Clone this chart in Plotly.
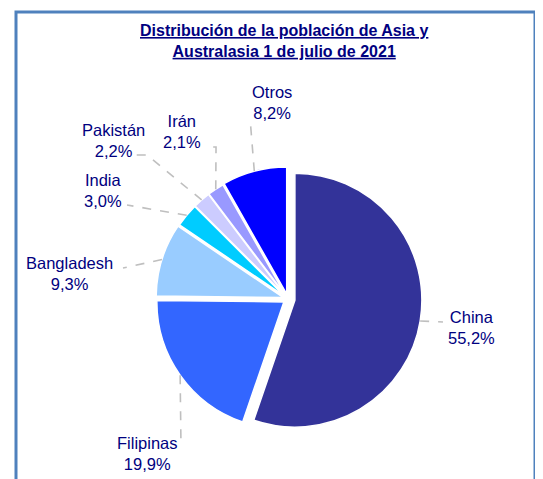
import math
import plotly.graph_objects as go

W, H = 543, 479
OFF = 8  # the page body adds an 8px margin around the plot div

paises = ["China", "Filipinas", "Bangladesh", "India", "Pakistán", "Irán", "Otros"]
porcentajes = [55.2, 19.9, 9.3, 3.0, 2.2, 2.1, 8.2]
colores = ["#333399", "#3366FF", "#99CCFF", "#00CCFF", "#CCCCFF", "#9999FF", "#0000FF"]
separacion = [0.055, 0.04, 0.04, 0.035, 0.035, 0.035, 0.04]

# geometry of the pie in screen pixels (centre and radius)
cx, cy, r = 288, 299, 127
# label centre and the leader-line bends/end for every slice, screen pixels
etiqueta_pos = [(471, 327), (147, 453), (69, 273), (103, 190), (113, 140), (182, 132), (272, 102)]
guia_puntos = [
    [(443, 322)],
    [(181, 447)],
    [(123, 268)],
    [(127, 205)],
    [(147, 155), (135, 155)],
    [(216, 147), (208, 147)],
    [(250, 118)],
]

azul_texto = "#000080"


def px(x, y):
    return (x - OFF) / W, 1 - (y - OFF) / H


max_pull = max(separacion)
half = r * (1 + max_pull)
x0, y1 = px(cx - half, cy - half)
x1, y0 = px(cx + half, cy + half)

fig = go.Figure()
fig.add_trace(go.Pie(
    labels=paises, values=porcentajes, sort=False, direction="clockwise", rotation=0,
    marker=dict(colors=colores, line=dict(color="white", width=1.5)),
    pull=separacion, textinfo="none", hoverinfo="label+percent",
    domain=dict(x=[x0, x1], y=[y0, y1]),
))

total = sum(porcentajes)
acum = 0
shapes = []
annotations = []
for i, (pais, v) in enumerate(zip(paises, porcentajes)):
    ang = math.radians((acum + v / 2) / total * 360)
    acum += v
    rr = r * (1 + separacion[i])
    sx, sy = cx + rr * math.sin(ang), cy - rr * math.cos(ang)
    pts = [(sx, sy)] + guia_puntos[i]
    path = ""
    for k, (x, y) in enumerate(pts):
        a, b = px(x, y)
        path += ("M" if k == 0 else " L") + f"{a:.4f},{b:.4f}"
    shapes.append(dict(type="path", xref="paper", yref="paper", path=path,
                       line=dict(color="#BFBFBF", width=1.6, dash="dash")))
    lx, ly = px(*etiqueta_pos[i])
    annotations.append(dict(
        x=lx, y=ly, xref="paper", yref="paper", showarrow=False,
        text=f"{pais}<br>{str(v).replace('.', ',')}%",
        font=dict(family="Liberation Sans, Arial", size=16.5, color=azul_texto),
        xanchor="center", yanchor="middle", align="center",
    ))

tx, ty = px(284, 41)
annotations.append(dict(
    x=tx, y=ty, xref="paper", yref="paper", showarrow=False,
    text="<b><u>Distribución de la población de Asia y</u></b><br><b><u>Australasia 1 de julio de 2021</u></b>",
    font=dict(family="Liberation Sans, Arial", size=16, color=azul_texto),
    xanchor="center", yanchor="middle", align="center",
))

# chart area frame
fx0, fy1 = px(16, 12)
fx1, _ = px(535, 0)
shapes.append(dict(type="rect", xref="paper", yref="paper",
                   x0=fx0, x1=fx1, y0=-0.05, y1=fy1,
                   line=dict(color="#4F81BD", width=3)))

fig.update_layout(
    width=W, height=H, margin=dict(l=0, r=0, t=0, b=0),
    paper_bgcolor="white", plot_bgcolor="white", showlegend=False,
    shapes=shapes, annotations=annotations,
)
fig.write_html("out.html")
